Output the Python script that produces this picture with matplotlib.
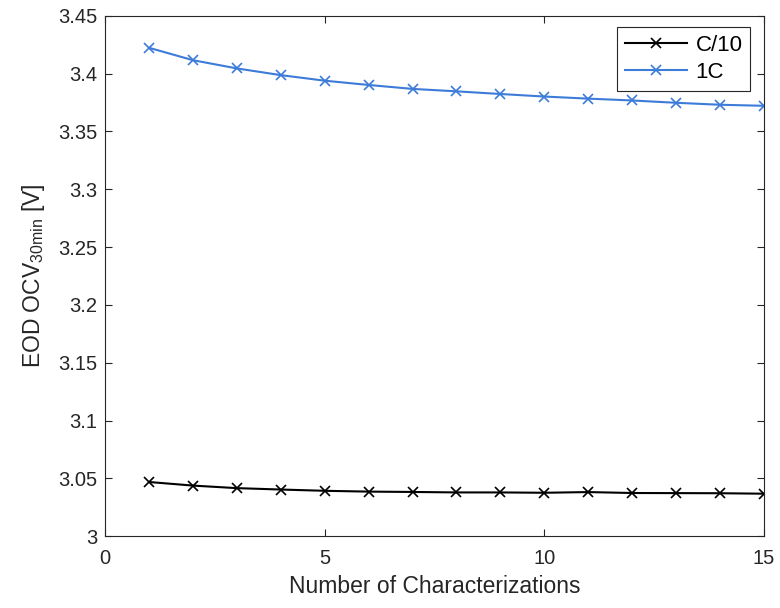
import numpy as np
import matplotlib
matplotlib.use('Agg')
import matplotlib.pyplot as plt

plt.rcParams['font.family'] = ['Liberation Sans', 'DejaVu Sans']

n_char = list(range(1, 16))
ocv_c10 = [3.0469, 3.0438, 3.0416, 3.0404, 3.0393, 3.0386, 3.0383, 3.0379, 3.0379,
           3.0376, 3.0382, 3.0374, 3.0373, 3.0372, 3.0368]
ocv_1c = [3.4223, 3.4116, 3.4045, 3.3987, 3.3939, 3.3902, 3.3868, 3.3847, 3.3824,
          3.3802, 3.3784, 3.3768, 3.3748, 3.3731, 3.3722]

fig = plt.figure(figsize=(7.8, 6.08), dpi=100)
ax = fig.add_axes([0.135, 0.118, 0.844, 0.856])

ax.plot(n_char, ocv_c10, color='black', marker='x', lw=1.5, ms=7, mew=1.2, label='C/10')
ax.plot(n_char, ocv_1c, color='#3d7bd9', marker='x', lw=1.5, ms=7, mew=1.2, label='1C')

ax.set_xlim(0, 15)
ax.set_ylim(3, 3.45)
ax.set_xticks([0, 5, 10, 15])
ax.set_yticks(np.arange(3, 3.451, 0.05))
ax.set_yticklabels(['3', '3.05', '3.1', '3.15', '3.2', '3.25', '3.3', '3.35', '3.4', '3.45'])
ax.tick_params(direction='in', top=True, right=True, labelsize=14.5, colors='#262626', length=5.2)
ax.tick_params(axis='x', pad=9)
ax.tick_params(axis='y', pad=5.5)
for s in ax.spines.values():
    s.set_color('#262626')
    s.set_linewidth(0.8)

ax.set_xlabel('Number of Characterizations', fontsize=16.5, color='#262626', labelpad=5)
ax.set_ylabel(r'EOD OCV$_{\mathregular{30min}}$ [V]', fontsize=16.5, color='#262626', labelpad=8)

leg = ax.legend(loc='upper right', fontsize=16, fancybox=False, framealpha=1,
                edgecolor='#262626', handlelength=2.8, handletextpad=0.4, borderpad=0.35,
                labelspacing=0.3, borderaxespad=0, bbox_to_anchor=(0.98, 0.979))
leg.get_frame().set_linewidth(0.8)

fig.savefig('out.png', dpi=100)
